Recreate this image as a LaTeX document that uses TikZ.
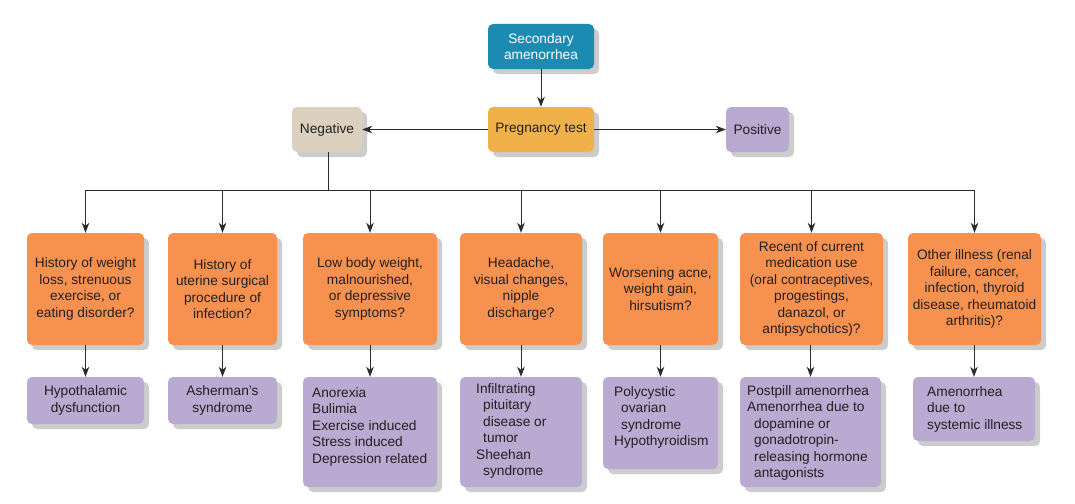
\documentclass[tikz,border=0pt]{standalone}
\usepackage{fontspec}
\setmainfont{Liberation Sans}
\usetikzlibrary{shadows,arrows.meta}
\definecolor{tealc}{HTML}{1B8BB1}
\definecolor{pregc}{HTML}{F0B14A}
\definecolor{negc}{HTML}{DCD1BF}
\definecolor{purc}{HTML}{BAA9D1}
\definecolor{orac}{HTML}{F69150}
\definecolor{txtc}{HTML}{231F20}
\definecolor{linec}{HTML}{2B2B2B}
\newcommand\myind{\hspace*{7pt}}
\begin{document}
\begin{tikzpicture}[x=1pt,y=-1pt,
  box/.style={rounded corners=5pt, inner sep=0pt, align=center,
    font=\fontsize{13.7}{16.5}\selectfont, text=txtc,
    drop shadow={shadow xshift=5pt,shadow yshift=-5pt,fill=black,opacity=0.2}},
  orbox/.style={box, fill=orac, minimum height=112pt},
  pubox/.style={box, fill=purc},
  ptext/.style={inner sep=0pt, align=left, anchor=north west,
    font=\fontsize{13.7}{16.5}\selectfont, text=txtc},
  conn/.style={draw=linec, line width=1pt},
  arr/.style={conn, -{Stealth[length=10pt,width=7.5pt,inset=3pt]}},
]
\fill[white] (0,0) rectangle (1075,503);
\useasboundingbox (0,0) rectangle (1075,503);

% top level
\node[box, fill=tealc, text=white, minimum width=106pt, minimum height=45pt] (sec) at (541,46.5) {Secondary\\amenorrhea};
\node[box, fill=pregc, minimum width=106pt, minimum height=45pt] (preg) at (541,129.5) {Pregnancy test};
\node[box, fill=negc, minimum width=70pt, minimum height=45pt] (neg) at (327,129.5) {Negative};
\node[box, fill=purc, minimum width=63pt, minimum height=45pt] (pos) at (757.5,129.5) {Positive};

% orange question boxes
\node[orbox, minimum width=117pt] (o1) at (85.5,289) {History of weight\\loss, strenuous\\exercise, or\\eating disorder?};
\node[orbox, minimum width=109pt] (o2) at (222.5,289) {History of\\uterine surgical\\procedure of\\infection?};
\node[orbox, minimum width=134pt] (o3) at (370,289) {Low body weight,\\malnourished,\\or depressive\\symptoms?};
\node[orbox, minimum width=122pt] (o4) at (521,289) {Headache,\\visual changes,\\nipple\\discharge?};
\node[orbox, minimum width=115pt] (o5) at (660.5,289) {Worsening acne,\\weight gain,\\hirsutism?};
\node[orbox, minimum width=143pt] (o6) at (811.5,289) {Recent of current\\medication use\\(oral contraceptives,\\progestings,\\danazol, or\\antipsychotics)?};
\node[orbox, minimum width=133pt] (o7) at (974.5,289) {Other illness (renal\\failure, cancer,\\infection, thyroid\\disease, rheumatoid\\arthritis)?};

% purple result boxes
\node[pubox, minimum width=117pt, minimum height=47pt] (p1) at (85.5,400.5) {Hypothalamic\\dysfunction};
\node[pubox, minimum width=109pt, minimum height=47pt] (p2) at (222.5,400.5) {Asherman’s\\syndrome};
\node[pubox, minimum width=134pt, minimum height=110pt] (p3) at (370,432) {};
\node[pubox, minimum width=122pt, minimum height=110pt] (p4) at (521,432) {};
\node[pubox, minimum width=115pt, minimum height=92pt] (p5) at (660.5,423) {};
\node[pubox, minimum width=141pt, minimum height=110pt] (p6) at (810.5,432) {};
\node[pubox, minimum width=122pt, minimum height=64pt] (p7) at (974,409) {};

\node[ptext] (t3) at (312,387) {Anorexia\\Bulimia\\Exercise induced\\Stress induced\\Depression related};
\node[ptext] (t4) at (476,383) {Infiltrating\\\myind pituitary\\\myind disease or\\\myind tumor\\Sheehan\\\myind syndrome};
\node[ptext] (t5) at (614,386) {Polycystic\\\myind ovarian\\\myind syndrome\\Hypothyroidism};
\node[ptext] (t6) at (747,385) {Postpill amenorrhea\\Amenorrhea due to\\\myind dopamine or\\\myind gonadotropin-\\\myind releasing hormone\\\myind antagonists};
\node[ptext] (t7) at (927,386) {Amenorrhea\\due to\\systemic illness};

% connectors
\draw[arr] (sec) -- (preg);
\draw[arr] (preg) -- (neg);
\draw[arr] (preg) -- (pos);
\coordinate (bar) at (328,190);
\draw[conn] (neg.south -| bar) -- (bar);
\draw[conn] (o1.north |- bar) -- (o7.north |- bar);
\foreach \i in {1,...,7}{
  \draw[arr] (o\i.north |- bar) -- (o\i.north);
  \draw[arr] (p\i.north |- o\i.south) -- (p\i.north);
}
\end{tikzpicture}
\end{document}
